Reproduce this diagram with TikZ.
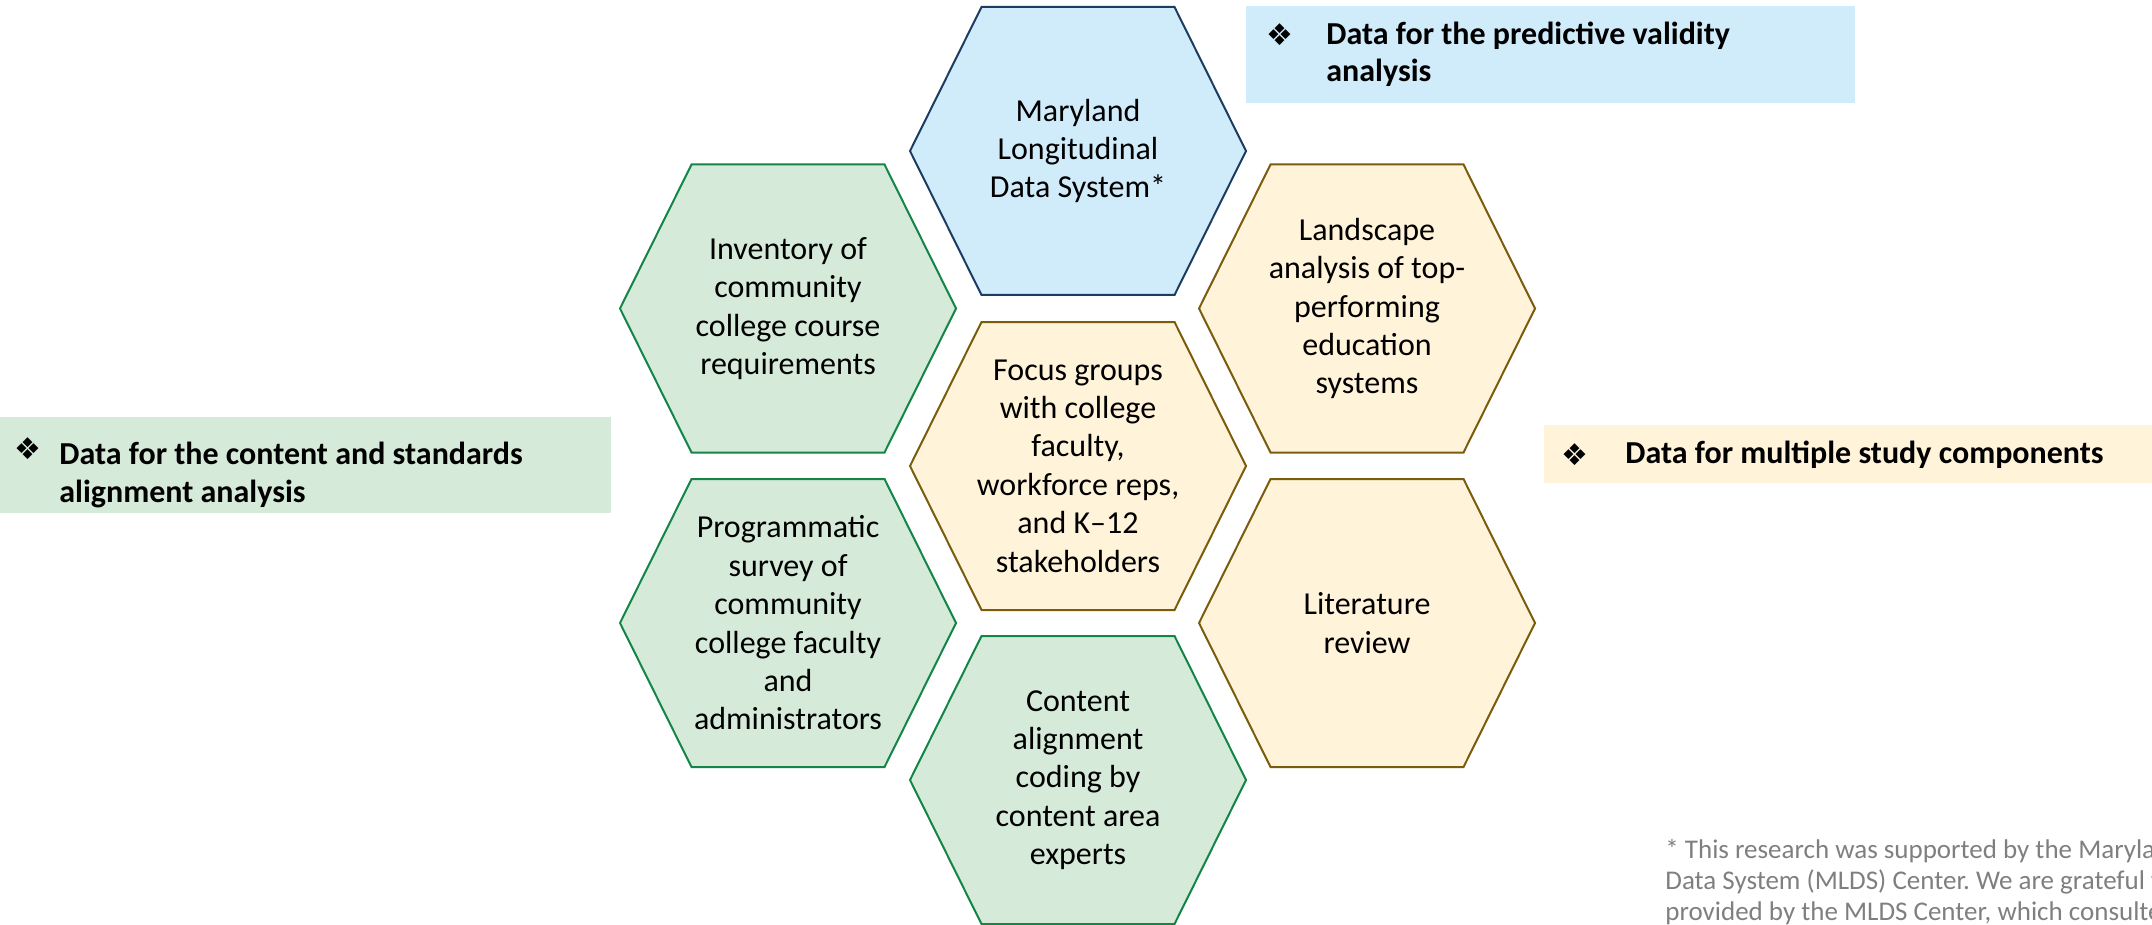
\documentclass[tikz,border=0pt]{standalone}
\usepackage{fontspec}
\setmainfont{Carlito}
\newfontfamily\dingfont{DejaVu Sans}
\definecolor{bluefill}{HTML}{D0EBFA}
\definecolor{bluedraw}{HTML}{1B3D62}
\definecolor{greenfill}{HTML}{D6EAD9}
\definecolor{greendraw}{HTML}{138546}
\definecolor{tanfill}{HTML}{FFF3D9}
\definecolor{tandraw}{HTML}{7A5C0C}
\definecolor{notegray}{HTML}{7F7F7F}
\tikzset{hexa/.pic={\path[pic actions] (-168,0) -- (-96.5,-144) -- (96.5,-144) -- (168,0) -- (96.5,144) -- (-96.5,144) -- cycle;}}
\frenchspacing
\begin{document}
\begin{tikzpicture}[x=0.5pt,y=-0.5pt,
  hexbase/.style={line width=1pt, line join=miter},
  bluehex/.style={hexbase, draw=bluedraw, fill=bluefill},
  greenhex/.style={hexbase, draw=greendraw, fill=greenfill},
  tanhex/.style={hexbase, draw=tandraw, fill=tanfill},
  hextext/.style={align=center, font=\fontsize{16}{19.2}\selectfont, text=black, inner sep=0pt},
  labeltext/.style={align=left, anchor=base west, font=\fontsize{16}{18.7}\selectfont\bfseries, inner sep=0pt},
  bulletmark/.style={font=\dingfont\fontsize{15}{15}\selectfont, inner sep=0pt},
  notetext/.style={align=left, anchor=base west, text=notegray, font=\fontsize{13.5}{15.5}\selectfont, inner sep=0pt}
]
\useasboundingbox (0,0) rectangle (2152,925);

% label boxes (multi-line nodes are placed at the baseline of their last line)
\fill[bluefill] (1246,6) rectangle (1855,103);
\node[bulletmark] (b1) at (1279.5,35) {❖};
\node[labeltext] (l1) at (1326,81.7) {Data for the predictive validity\\analysis};

\fill[greenfill] (0,417) rectangle (611,513);
\node[bulletmark] (b2) at (28,449) {❖};
\node[labeltext] (l2) at (59,502) {Data for the content and standards\\alignment analysis};

\fill[tanfill] (1544,425) rectangle (2152,483);
\node[bulletmark] (b3) at (1575,455) {❖};
\node[labeltext] (l3) at (1625,463) {Data for multiple study components};

% hexagons
\pic[bluehex] at (1078,151) {hexa};
\node[hextext] (mlds) at (1078,151) {Maryland\\Longitudinal\\Data System*};

\pic[greenhex] at (788,308.5) {hexa};
\node[hextext] (inv) at (788,308.5) {Inventory of\\community\\college course\\requirements};

\pic[tanhex] at (1078,466) {hexa};
\node[hextext] (focus) at (1078,466) {Focus groups\\with college\\faculty,\\workforce reps,\\and K–12\\stakeholders};

\pic[tanhex] at (1367,308.5) {hexa};
\node[hextext] (land) at (1367,308.5) {Landscape\\analysis of top-\\performing\\education\\systems};

\pic[greenhex] at (788,623) {hexa};
\node[hextext] (prog) at (788,623) {Programmatic\\survey of\\community\\college faculty\\and\\administrators};

\pic[tanhex] at (1367,623) {hexa};
\node[hextext] (lit) at (1367,623) {Literature\\review};

\pic[greenhex] at (1078,780) {hexa};
\node[hextext] (cont) at (1078,780) {Content\\alignment\\coding by\\content area\\experts};

% footnote (clipped at the picture edge)
\begin{scope}
\clip (0,0) rectangle (2152,925);
\node[notetext] (note) at (1665,920) {* This research was supported by the Maryland\\Data System (MLDS) Center. We are grateful for\\provided by the MLDS Center, which consulted};
\end{scope}
\end{tikzpicture}
\end{document}
